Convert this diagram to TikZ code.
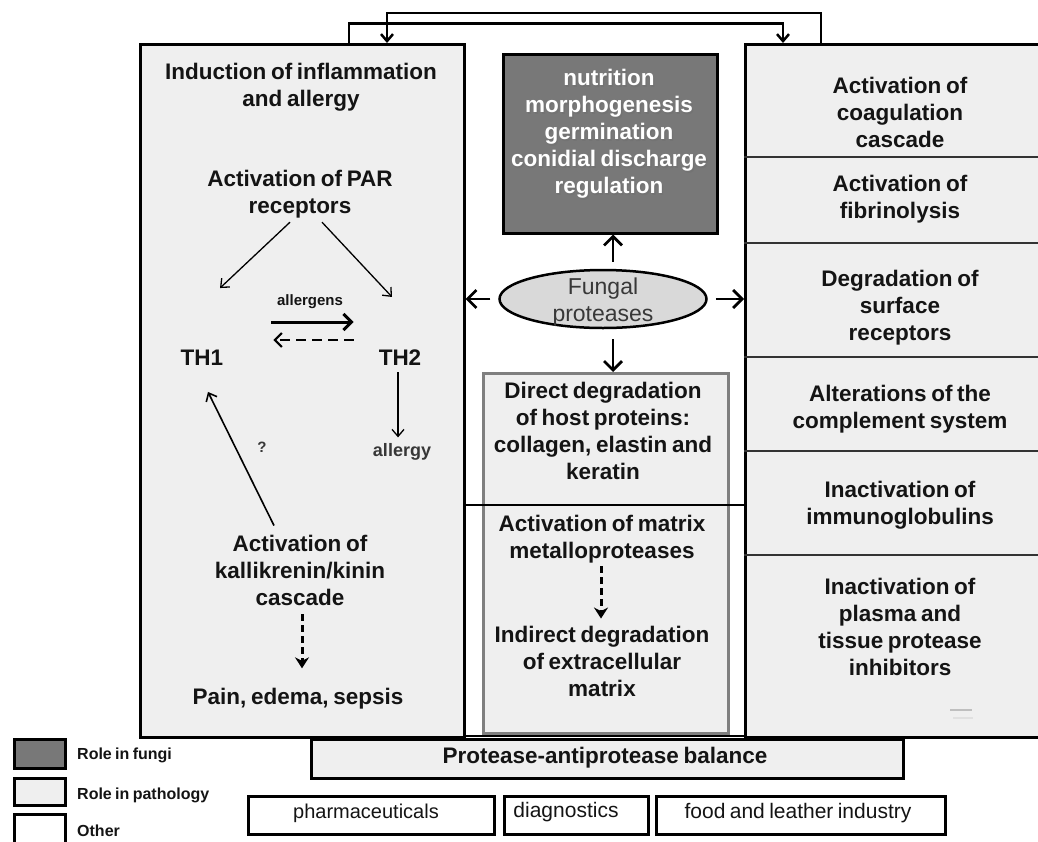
\documentclass[tikz,border=0pt]{standalone}
\usepackage{fontspec}
\setmainfont{Liberation Sans}[WordSpace=0.75]
\usetikzlibrary{arrows.meta,shapes.geometric}
\definecolor{panel}{HTML}{EFEFEF}
\definecolor{fungifill}{HTML}{787878}
\definecolor{ellfill}{HTML}{D9D9D9}
\definecolor{innerline}{HTML}{7F7F7F}
\definecolor{txt}{HTML}{141414}
\definecolor{divline}{HTML}{333333}
\begin{document}
\begin{tikzpicture}[x=1pt,y=-1pt,
  bx/.style={draw=black,line width=2.5pt,fill=panel,inner sep=0pt,anchor=north west},
  wbox/.style={draw=black,line width=2.5pt,fill=white,inner sep=0pt,anchor=north west,minimum height=38pt},
  lbl/.style={font=\bfseries\fontsize{22.5}{27}\selectfont,align=center,inner sep=0pt,text=txt},
  plain/.style={font=\fontsize{21}{25}\selectfont,inner sep=0pt,text=txt},
  legtext/.style={font=\bfseries\fontsize{16}{19}\selectfont,inner sep=0pt,anchor=west,text=txt},
  toparr/.style={line width=2.5pt,-{Straight Barb[length=7pt,width=12pt]}},
  bigarr/.style={line width=2.8pt,-{Straight Barb[length=9pt,width=18pt]}},
  thinarr/.style={line width=1.3pt,-{Straight Barb[length=7pt,width=12pt]}},
  solidarr/.style={line width=3pt,-{Straight Barb[length=8pt,width=16pt]}},
  dasharr/.style={line width=2pt,dash pattern=on 10pt off 6pt,-{Straight Barb[length=7pt,width=14pt]}},
  vdash/.style={line width=3pt,dash pattern=on 7pt off 4pt,-{Stealth[length=11pt,width=14pt]}},
]
\useasboundingbox (0,0) rectangle (1038,841);
\clip (0,0) rectangle (1038,841);

% main panels
\node[bx,minimum width=324pt,minimum height=693pt] (lbox) at (139,43) {};
\node[bx,minimum width=320pt,minimum height=693pt] (rbox) at (744,43) {};

% top connectors
\coordinate (lA) at (349,43);
\coordinate (rA) at (783,43);
\coordinate (rB) at (821,43);
\coordinate (lB) at (387,43);
\draw[toparr] (lA) -- ++(0,-19.5) -| (rA);
\draw[toparr] (rB) -- ++(0,-30) -| (lB);

% middle column
\node[draw=black,fill=fungifill,line width=2.5pt,minimum width=214pt,minimum height=179pt,anchor=north west,inner sep=0pt] (fungi) at (502,53) {};
\node[draw=innerline,fill=panel,line width=2.5pt,minimum width=245pt,minimum height=360pt,anchor=north west,inner sep=0pt] (inner) at (482,372) {};
\draw[line width=2.2pt] (463,505) -- (744,505);
\draw[line width=2.5pt] (463,736) -- (744,736);

\node[ellipse,draw=black,fill=ellfill,line width=2.5pt,minimum width=207pt,minimum height=58pt,inner sep=0pt] (fp) at (603,299) {};
\node[font=\fontsize{23}{27}\selectfont,text=black!78,align=center,inner sep=0pt] (fptext) at (603,302) {Fungal\\proteases};

\draw[bigarr] ([shift={(10,-7)}]fp.north) -- ([xshift=10pt]fp.north |- fungi.south);
\draw[bigarr] ([shift={(10,10)}]fp.south) -- ([xshift=10pt]fp.south |- inner.north);
\draw[bigarr] ([shift={(-8,0)}]fp.west) -- (fp.west -| lbox.east);
\draw[bigarr] ([shift={(8,0)}]fp.east) -- (fp.east -| rbox.west);

\node[lbl,text=black!55] (fungishadow) at (610.3,135.3) {nutrition\\morphogenesis\\germination\\conidial discharge\\regulation};
\node[lbl,text=white] (fungitext) at (609,134) {nutrition\\morphogenesis\\germination\\conidial discharge\\regulation};
\node[lbl] (direct) at (603,431) {Direct degradation\\of host proteins:\\collagen, elastin and\\keratin};
\node[lbl] (mmp) at (602,539) {Activation of matrix\\metalloproteases};
\node[lbl] (indirect) at (602,661) {Indirect degradation\\of extracellular\\matrix};
\draw[vdash] ([shift={(-1,3)}]mmp.south) -- ([shift={(-1,-7)}]indirect.north);

% left panel content
\node[lbl] (infl) at (301,87) {Induction of inflammation\\and allergy};
\node[lbl] (par) at (300,194) {Activation of PAR\\receptors};
\node[lbl] (th1) at (202,358) {TH1};
\node[lbl] (th2) at (400,358) {TH2};
\node[font=\bfseries\fontsize{15}{18}\selectfont,inner sep=0pt,text=txt] (allg) at (310,302) {allergens};
\node[font=\bfseries\fontsize{18}{20}\selectfont,inner sep=0pt,text=txt!85] (allergy) at (402,452) {allergy};
\node[font=\bfseries\fontsize{15}{18}\selectfont,inner sep=0pt,text=txt!85] (q) at (262,447) {?};
\node[lbl] (kal) at (300,570) {Activation of\\kallikrenin/kinin\\cascade};
\node[lbl] (pain) at (298,699) {Pain, edema, sepsis};

\draw[thinarr] ([shift={(-10,4)}]par.south) -- ([shift={(18,-62)}]th1.north);
\draw[thinarr] ([shift={(22,4)}]par.south) -- ([shift={(-8,-53)}]th2.north);
\draw[solidarr] ([shift={(48,-36)}]th1.east) -- ([shift={(-25,-36)}]th2.west);
\draw[dasharr] ([shift={(-25,-18)}]th2.west) -- ([shift={(50,-18)}]th1.east);
\draw[thinarr] ([shift={(-2,6)}]th2.south) -- ([shift={(-4,-6)}]allergy.north);
\draw[thinarr,line width=1.6pt] ([shift={(-26,-9)}]kal.north) -- ([shift={(6,26)}]th1.south);
\draw[vdash] ([shift={(2,9)}]kal.south) -- ([shift={(4,-20)}]pain.north);

% right panel rows
\draw[divline,line width=2pt] (744,157) -- (1050,157);
\draw[divline,line width=2pt] (744,243) -- (1050,243);
\draw[divline,line width=2pt] (744,357) -- (1050,357);
\draw[divline,line width=2pt] (744,451) -- (1050,451);
\draw[divline,line width=2pt] (744,555) -- (1050,555);
\node[lbl] (r1) at (900,112) {Activation of\\coagulation\\cascade};
\node[lbl] (r2) at (900,199) {Activation of\\fibrinolysis};
\node[lbl] (r3) at (900,308) {Degradation of\\surface\\receptors};
\node[lbl] (r4) at (900,409) {Alterations of the\\complement system};
\node[lbl] (r5) at (900,505) {Inactivation of\\immunoglobulins};
\node[lbl] (r6) at (900,627) {Inactivation of\\plasma and\\tissue protease\\inhibitors};
\draw[black!25,line width=1.5pt] (950,710) -- (972,710);
\draw[black!12,line width=1.2pt] (953,718) -- (973,718);

% bottom boxes
\node[bx,minimum width=592pt,minimum height=39pt] (bal) at (310,738) {};
\node[lbl] (baltext) at (605,758) {Protease-antiprotease balance};
\node[wbox,minimum width=246pt] (pharm) at (247,795) {};
\node[wbox,minimum width=144pt] (diag) at (503,795) {};
\node[wbox,minimum width=289pt] (food) at (655,795) {};
\node[plain,font=\fontsize{20}{24}\selectfont] (pharmtext) at (366,813) {pharmaceuticals};
\node[plain] (diagtext) at (566,812) {diagnostics};
\node[plain] (foodtext) at (798,813) {food and leather industry};

% legend
\node[draw=black,fill=fungifill,line width=2.5pt,minimum width=51pt,minimum height=29pt,anchor=north west,inner sep=0pt] (legf) at (13,738) {};
\node[draw=black,fill=panel,line width=2.5pt,minimum width=51pt,minimum height=27pt,anchor=north west,inner sep=0pt] (legp) at (13,777) {};
\node[draw=black,fill=white,line width=2.5pt,minimum width=51pt,minimum height=40pt,anchor=north west,inner sep=0pt] (lego) at (13,813) {};
\node[legtext] (legft) at (77,755) {Role in fungi};
\node[legtext] (legpt) at (77,795) {Role in pathology};
\node[legtext] (legot) at (77,831) {Other};
\end{tikzpicture}
\end{document}
